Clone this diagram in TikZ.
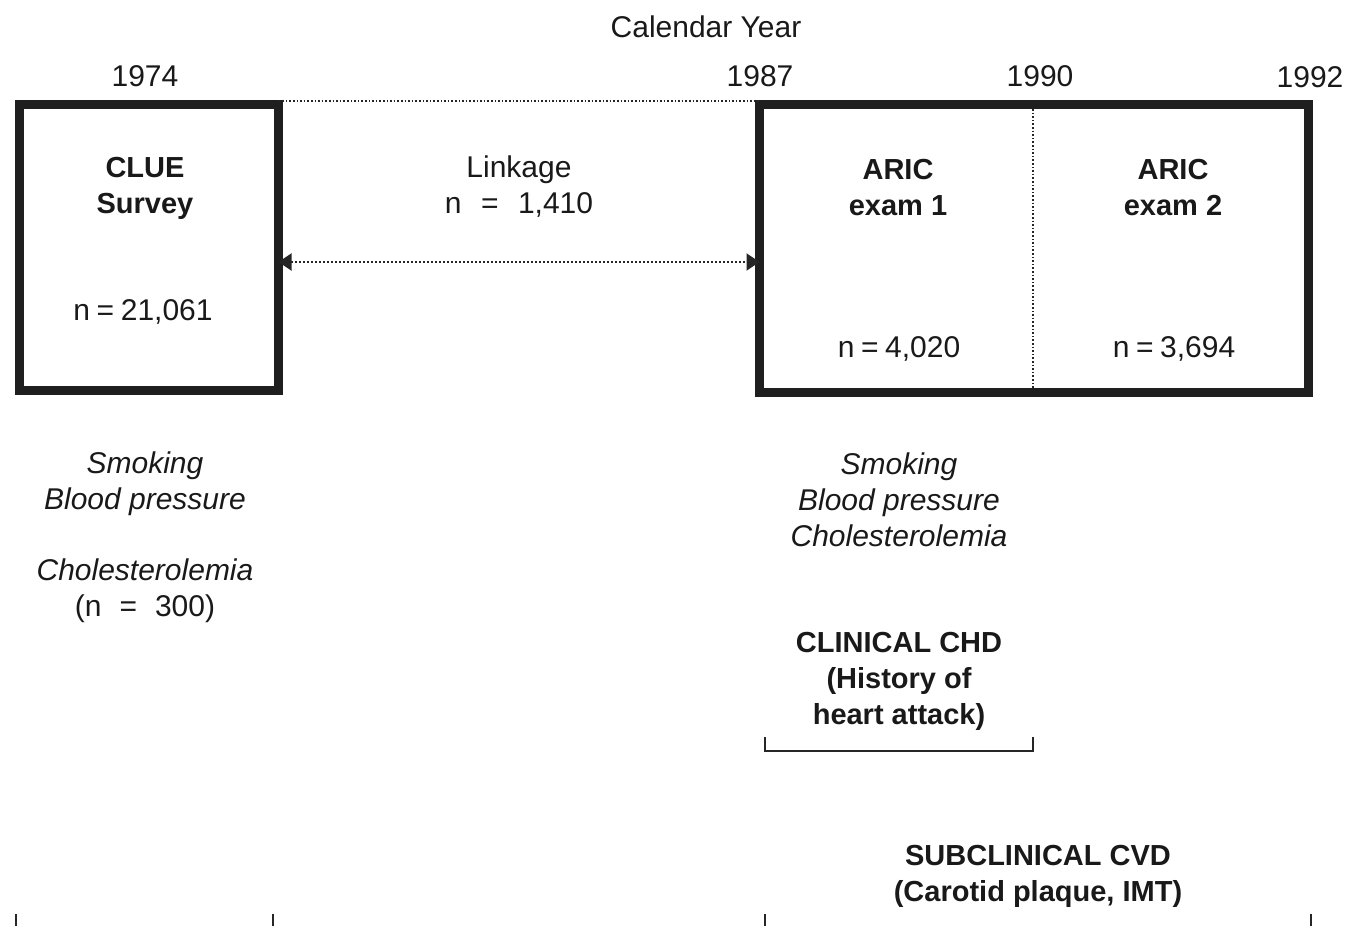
\documentclass[tikz,border=0pt]{standalone}
\usepackage{fontspec}
\setmainfont{Liberation Sans}
\usetikzlibrary{arrows.meta}
\tikzset{
  thickbox/.style={draw=black!88, line width=9pt, inner sep=0pt, outer sep=0pt},
  lbl/.style={font=\fontsize{30}{36}\selectfont, align=center, inner sep=0pt, text=black!90},
  blbl/.style={lbl, font=\fontsize{29}{36}\selectfont\bfseries},
  ilbl/.style={lbl, font=\fontsize{30}{36}\selectfont\itshape},
  dots/.style={draw=black!85, line width=1.6pt, dotted},
  link/.style={draw=black!85, line width=2pt, dotted, {Triangle[length=13pt,width=17pt]}-{Triangle[length=13pt,width=17pt]}},
  tick/.style={draw=black!85, line width=2.5pt},
  brk/.style={draw=black!85, line width=2.2pt},
}
\begin{document}
\begin{tikzpicture}[x=1pt,y=-1pt]
\useasboundingbox (0,0) rectangle (1349,926);
% boxes
\node[thickbox, minimum width=259pt, minimum height=286pt] (clue) at (149,247.5) {};
\node[thickbox, minimum width=549pt, minimum height=288pt] (aric) at (1034,248.5) {};
% divider
\coordinate (dtop) at (1033,109);
\coordinate (dbot) at (1033,388);
\draw[dots, line width=1.3pt] (dtop) -- (dbot);
% top dotted line
\draw[dots, line width=1.3pt] ([yshift=3.5pt]clue.north east) -- ([yshift=3.5pt]aric.north west);
% linkage arrow
\draw[link] ([yshift=-14.5pt]clue.east) -- ([yshift=-13.5pt]aric.west);
% year labels
\node[lbl] (cy) at (706,27) {Calendar Year};
\node[lbl] (y74) at (145,76) {1974};
\node[lbl] (y87) at (760,76) {1987};
\node[lbl] (y90) at (1040,76) {1990};
\node[lbl] (y92) at (1310,77) {1992};
% box texts
\node[blbl] (cluet) at (145,188) {CLUE\\Survey};
\node[lbl] (cluen) at (143,312) {n\hspace{0.22em}=\hspace{0.22em}21,061};
\node[lbl] (linkt) at (519,187) {Linkage\\n\hspace{0.65em}=\hspace{0.65em}1,410};
\node[blbl] (a1t) at (898,188) {ARIC\\exam 1};
\node[blbl] (a2t) at (1173,188) {ARIC\\exam 2};
\node[lbl] (a1n) at (899,349) {n\hspace{0.22em}=\hspace{0.22em}4,020};
\node[lbl] (a2n) at (1174,349) {n\hspace{0.22em}=\hspace{0.22em}3,694};
% variables
\node[ilbl] (lv1) at (145,484) {Smoking\\Blood pressure};
\node[lbl, align=center] (lv2) at (145,591) {\itshape Cholesterolemia\\(n\hspace{0.6em}=\hspace{0.6em}300)};
\node[ilbl] (rv) at (899,499.5) {Smoking\\Blood pressure\\Cholesterolemia};
\node[blbl] (chd) at (899,681) {CLINICAL CHD\\(History of\\heart attack)};
\node[blbl] (cvd) at (1038,876) {SUBCLINICAL CVD\\(Carotid plaque, IMT)};
% bracket
\coordinate (b1) at (765,737);
\coordinate (b2) at (765,751);
\coordinate (b3) at (1033,751);
\coordinate (b4) at (1033,737);
\draw[brk] (b1) -- (b2) -- (b3) -- (b4);
% bottom ticks
\foreach \x/\n in {16/t1,273/t2,765/t3,1311/t4}{
  \coordinate (\n a) at (\x,914);
  \coordinate (\n b) at (\x,926);
  \draw[tick] (\n a) -- (\n b);
}
\end{tikzpicture}
\end{document}
